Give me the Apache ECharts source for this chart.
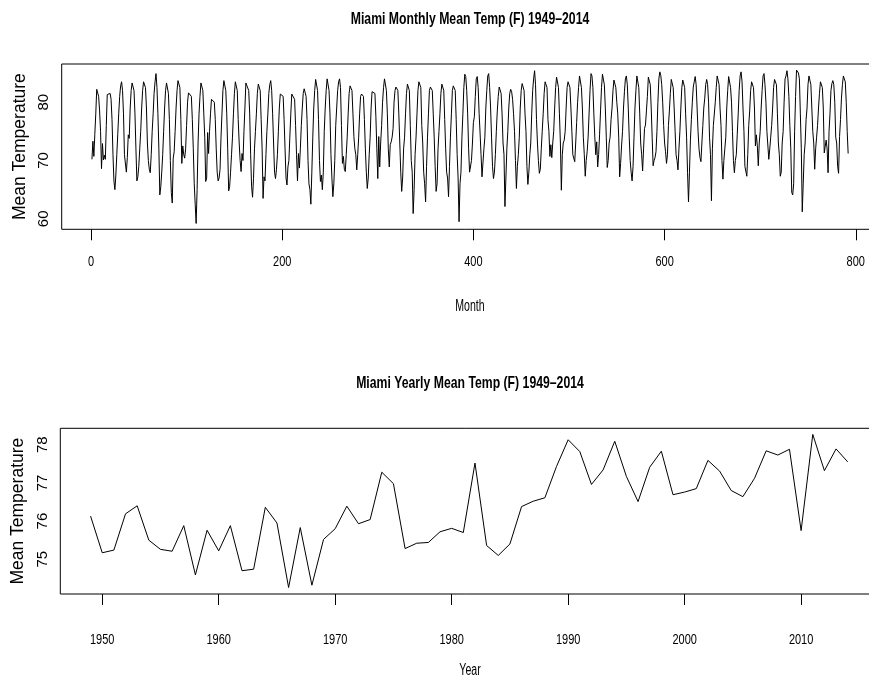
<!DOCTYPE html>
<html><head><meta charset="utf-8">
<script src="https://cdn.jsdelivr.net/npm/echarts@6/dist/echarts.min.js"></script>
<style>html,body{margin:0;padding:0;background:#fff;overflow:hidden}#c{width:869px;height:680px}</style>
</head><body><div id="c"></div>
<script>
// Monthly mean temperature (F), Jan..Dec for each year 1949-2014
const monthlyTemp = [
70.2,73.3,70.7,74.5,78.0,82.2,82.0,81.0,78.5,75.0,68.6,72.9,
70.1,70.9,70.2,76.0,81.3,81.5,81.6,81.5,80.5,77.0,71.0,66.5,
65.0,67.5,71.0,74.5,78.0,81.0,82.8,83.5,82.0,78.0,71.0,70.9,
68.0,70.5,74.4,73.8,79.0,82.0,83.3,83.0,82.0,78.0,72.0,66.5,
67.2,69.0,72.0,75.0,79.0,82.0,83.5,83.4,82.5,79.0,73.0,70.0,
68.5,67.9,71.0,75.0,78.0,81.5,83.5,84.9,82.5,78.0,72.0,64.1,
65.5,68.0,71.0,75.0,79.0,82.0,83.3,83.0,81.5,77.0,70.0,64.5,
62.7,70.4,71.5,75.0,79.0,82.0,83.7,83.5,82.5,77.0,69.5,72.5,
71.0,70.4,72.0,76.0,80.0,81.6,81.6,81.4,81.0,77.0,72.0,66.0,
62.5,59.2,65.0,73.0,78.0,81.0,83.3,83.1,82.0,78.0,74.0,66.4,
67.0,74.8,71.2,75.0,78.0,80.5,80.8,80.6,80.0,77.0,72.0,68.0,
66.5,67.0,68.5,74.0,78.0,82.0,83.7,83.5,82.0,78.0,72.0,64.8,
65.5,68.0,71.0,74.0,78.0,81.5,83.5,83.3,82.0,77.0,73.0,70.0,
68.1,71.2,70.0,75.0,79.0,83.3,83.0,83.2,82.0,78.0,71.0,65.5,
63.7,66.9,72.0,75.0,78.0,81.5,83.1,83.0,82.0,77.0,72.0,63.5,
67.2,66.5,71.0,75.0,78.0,81.5,83.0,83.7,82.0,78.0,73.0,68.0,
66.9,68.5,71.0,75.0,79.0,81.4,81.6,81.5,81.0,77.0,72.0,67.0,
65.8,68.9,70.0,74.0,78.0,81.4,81.6,81.5,80.5,76.0,71.0,66.5,
71.2,68.7,72.0,76.0,79.0,81.5,82.3,82.1,81.0,77.0,70.0,66.0,
65.0,62.5,68.0,74.0,79.0,82.0,83.9,83.7,82.0,77.0,70.0,66.4,
67.5,65.0,68.0,75.0,79.0,82.0,84.0,83.8,82.0,78.0,71.0,67.0,
63.8,66.0,70.0,76.0,79.0,82.0,83.5,84.0,82.5,76.0,69.5,70.7,
68.5,68.1,71.0,74.0,78.0,81.5,82.8,82.6,82.0,78.0,74.1,72.0,
71.0,68.4,71.0,74.0,78.0,81.0,81.4,81.6,81.0,77.0,72.0,68.0,
65.2,67.0,71.0,74.0,79.0,81.8,81.8,81.7,81.5,77.5,72.0,66.9,
74.1,68.9,73.0,76.0,80.0,82.5,84.0,84.1,82.0,78.0,72.0,68.9,
72.7,73.2,74.0,75.5,80.0,82.0,82.6,82.6,82.0,78.0,73.0,68.0,
64.7,67.0,72.0,74.0,78.0,81.5,83.1,83.0,82.0,76.0,70.0,68.0,
60.9,65.0,71.0,74.0,78.0,82.0,83.5,83.4,82.5,76.0,73.0,68.0,
66.0,62.9,69.0,74.0,78.0,82.0,82.6,82.5,82.0,78.0,74.0,69.0,
64.7,66.0,72.0,75.0,78.0,81.5,83.1,83.0,82.0,77.0,72.0,68.0,
67.0,63.8,69.0,74.0,78.0,82.0,82.8,82.6,82.0,77.0,71.0,67.0,
59.5,66.0,68.0,74.0,78.0,82.5,84.8,84.4,82.0,78.0,72.0,68.0,
67.8,70.0,73.0,76.5,77.5,81.0,84.0,84.4,82.5,78.0,74.7,71.0,
67.2,67.5,72.0,74.0,79.0,82.0,84.5,84.9,82.5,79.0,74.0,69.0,
66.9,68.0,71.0,75.0,78.5,81.0,82.6,82.6,81.5,78.0,73.0,71.0,
62.1,67.0,72.0,75.0,79.0,81.5,82.2,81.8,80.5,78.0,75.0,70.0,
65.2,69.0,71.0,74.0,79.0,82.0,83.2,83.5,82.0,78.0,75.0,69.0,
65.9,68.0,71.0,73.0,78.0,82.0,84.0,85.4,83.0,77.0,73.0,70.0,
67.8,68.5,72.0,75.0,78.0,81.5,83.5,83.8,82.5,77.0,75.0,70.7,
72.7,70.5,73.0,75.0,79.0,82.5,84.3,84.0,82.5,78.0,73.0,64.9,
71.0,73.0,73.5,75.0,79.0,82.5,83.5,83.4,82.5,79.0,75.0,71.0,
71.0,69.8,73.0,76.5,80.0,82.5,84.5,84.3,82.5,79.0,74.0,71.0,
67.3,70.0,71.5,74.0,78.0,82.0,84.9,84.5,82.5,78.0,74.0,71.0,
73.2,68.9,71.0,74.5,78.5,82.5,84.8,84.6,83.0,79.0,74.0,68.8,
70.0,73.0,74.0,77.0,79.0,82.0,83.8,83.6,82.5,80.0,78.0,74.0,
67.2,69.5,72.5,75.0,79.0,81.8,84.0,84.5,83.0,79.0,74.0,70.0,
68.0,66.5,69.0,74.0,79.0,82.0,84.5,84.3,82.5,78.0,73.0,71.0,
68.2,72.0,75.5,76.1,78.5,81.0,84.3,84.0,83.0,79.0,74.0,69.1,
70.0,70.5,71.5,75.0,80.0,84.0,85.2,84.6,83.0,80.0,76.0,73.0,
71.5,69.5,71.0,76.0,78.5,81.5,83.9,83.8,82.5,79.0,75.0,71.0,
70.0,68.4,72.0,75.0,79.0,82.5,83.8,83.6,82.5,78.0,74.0,68.0,
62.9,68.0,73.5,77.0,80.0,82.6,83.5,84.4,83.0,79.0,75.0,72.0,
70.5,69.8,73.0,76.0,79.0,80.7,83.0,83.9,83.0,80.0,74.0,71.0,
63.1,72.0,76.0,76.0,80.0,82.5,84.5,84.3,83.0,79.0,76.0,70.0,
66.8,70.0,72.0,74.0,79.0,82.0,84.4,84.2,82.5,80.0,75.0,70.0,
67.9,70.0,71.0,74.5,78.0,82.0,84.5,85.2,83.5,79.0,75.0,69.0,
69.0,67.3,71.0,76.0,78.5,82.0,83.5,83.7,82.5,79.0,72.5,74.4,
72.5,69.1,73.0,75.0,79.0,82.0,84.5,84.9,83.0,80.0,75.0,74.9,
70.2,72.0,74.0,76.0,79.0,82.5,83.9,83.7,83.0,78.0,73.0,71.0,
67.3,68.0,73.0,75.0,80.0,84.0,84.5,85.4,84.0,81.0,76.0,72.0,
64.5,64.1,66.0,75.0,81.0,85.5,85.4,85.0,84.0,78.0,72.0,61.2,
66.0,71.0,73.0,77.0,79.0,83.0,84.5,84.8,83.0,79.0,75.0,73.0,
68.5,72.0,74.0,76.0,79.0,81.5,83.5,83.7,82.5,79.0,71.3,72.4,
73.5,72.0,67.9,75.0,78.0,82.0,83.2,83.7,83.0,80.0,74.0,73.0,
69.0,67.8,74.1,77.0,80.7,83.0,84.5,84.8,83.5,80.0,75.0,71.2
];
const years = [1949,1950,1951,1952,1953,1954,1955,1956,1957,1958,1959,1960,1961,1962,1963,1964,1965,1966,1967,1968,1969,1970,1971,1972,1973,1974,1975,1976,1977,1978,1979,1980,1981,1982,1983,1984,1985,1986,1987,1988,1989,1990,1991,1992,1993,1994,1995,1996,1997,1998,1999,2000,2001,2002,2003,2004,2005,2006,2007,2008,2009,2010,2011,2012,2013,2014];
const yearlyMean = [76.13,75.17,75.24,76.19,76.40,75.50,75.26,75.21,75.88,74.59,75.76,75.22,75.88,74.70,74.74,76.36,75.95,74.26,75.83,74.32,75.52,75.80,76.39,75.93,76.04,77.28,76.98,75.28,75.42,75.44,75.72,75.81,75.70,77.52,75.36,75.10,75.40,76.38,76.52,76.61,77.43,78.13,77.82,76.96,77.34,78.09,77.17,76.51,77.41,77.83,76.69,76.76,76.85,77.59,77.31,76.80,76.64,77.12,77.84,77.73,77.88,75.75,78.27,77.32,77.89,77.55];
const monthTicks = [0,200,400,600,800];
const yearTicks = [1950,1960,1970,1980,1990,2000,2010];
const monthlyYTicks = [60,70,80];
const yearlyYTicks = [75,76,77,78];
const titles = ['Miami Monthly Mean Temp (F) 1949\u20132014','Miami Yearly Mean Temp (F) 1949\u20132014'];
const xNames = ['Month','Year'];

const REG = "'Liberation Sans',Arial,Helvetica,sans-serif";
const CONDENSE = 0.71;   // horizontal text in the reference is strongly condensed

const chart = echarts.init(document.getElementById('c'), null, {renderer:'canvas', width:869, height:680});

function xAx(grid, min, max, ticks){
  return {type:'value', gridIndex:grid, min:min, max:max, axisLine:{show:false}, splitLine:{show:false},
    axisTick:{show:true, customValues:ticks, length:11, lineStyle:{color:'#000', width:1}},
    axisLabel:{show:false, customValues:ticks}};
}
function yAx(grid, min, max, ticks){
  return {type:'value', gridIndex:grid, min:min, max:max, axisLine:{show:false}, splitLine:{show:false},
    axisTick:{show:false},
    axisLabel:{customValues:ticks, rotate:90, margin:10, fontFamily:REG, fontSize:15, color:'#000'},
    name:'Mean Temperature', nameLocation:'middle', nameRotate:90, nameGap:32,
    nameTextStyle:{fontFamily:REG, fontSize:17.5, color:'#000'}};
}
function txt(t, x, y, size, bold, sx){
  return {type:'text', x:x, y:y, scaleX:sx, silent:true,
    style:{text:t, fontFamily:REG, fontSize:size, fontWeight:bold?'bold':'normal', fill:'#000',
      align:'center', verticalAlign:'middle', textAlign:'center', textVerticalAlign:'middle'}};
}

chart.setOption({
  animation:false,
  backgroundColor:'#fff',
  grid:[
    {left:61.7, top:64, width:816.7, height:165.3, show:true, borderColor:'#000', borderWidth:1, containLabel:false, outerBoundsMode:'none'},
    {left:60.3, top:428.3, width:817.7, height:165.7, show:true, borderColor:'#000', borderWidth:1, containLabel:false, outerBoundsMode:'none'}
  ],
  xAxis:[ xAx(0, -30.64, 823.64, monthTicks), xAx(1, 1946.4, 2016.6, yearTicks) ],
  yAxis:[ yAx(0, 58.2, 86.55, monthlyYTicks), yAx(1, 74.09, 78.43, yearlyYTicks) ],
  series:[
    {type:'line', xAxisIndex:0, yAxisIndex:0, symbol:'none', showSymbol:false, silent:true,
     lineStyle:{color:'#000', width:1}, data:monthlyTemp.map((v,i)=>[i+1, v])},
    {type:'line', xAxisIndex:1, yAxisIndex:1, symbol:'none', showSymbol:false, silent:true,
     lineStyle:{color:'#000', width:1}, data:years.map((y,i)=>[y, yearlyMean[i]])}
  ]
});

// Tick labels placed through the axes' own scales (condensed like the reference)
const g = [
  txt(titles[0], 470, 19, 17, true, 0.72),
  txt(xNames[0], 470, 307, 16, false, 0.66),
  txt(titles[1], 470, 383, 17, true, 0.72),
  txt(xNames[1], 470, 671, 16, false, 0.66)
];
monthTicks.forEach(v => {
  const p = chart.convertToPixel({xAxisIndex:0, yAxisIndex:0}, [v, 70]);
  g.push(txt(String(v), p[0], 262, 15.5, false, CONDENSE));
});
yearTicks.forEach(v => {
  const p = chart.convertToPixel({xAxisIndex:1, yAxisIndex:1}, [v, 76]);
  g.push(txt(String(v), p[0], 640, 15.5, false, CONDENSE));
});
chart.setOption({graphic:g});
</script></body></html>
